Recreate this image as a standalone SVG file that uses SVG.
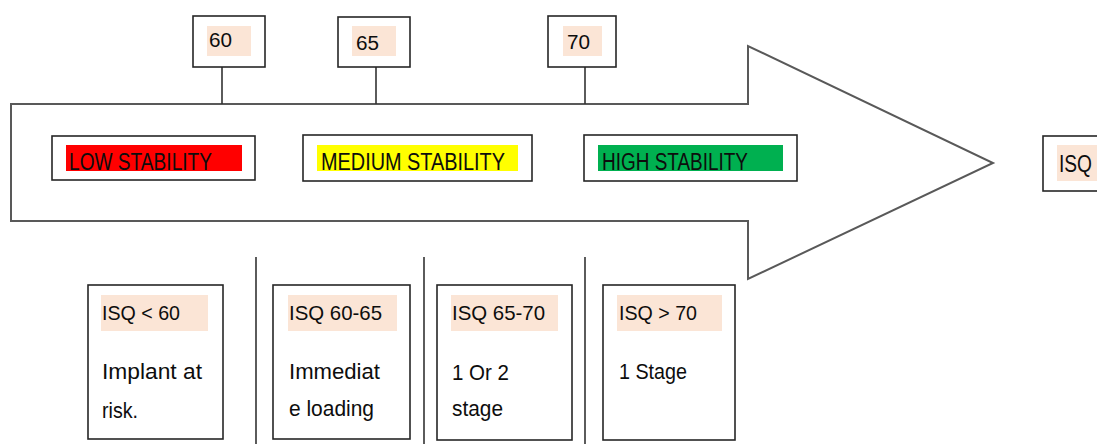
<svg xmlns="http://www.w3.org/2000/svg" width="1097" height="444" viewBox="0 0 1097 444">
<style>
.bg{fill:#ffffff}
.box{fill:#ffffff;stroke:#262626;stroke-width:1.6}
.arrow{fill:#ffffff;stroke:#595959;stroke-width:2}
.hl{fill:#fbe5d6}
.conn{stroke:#333333;stroke-width:1.6;fill:none}
.t{font-family:"Liberation Sans",Arial,sans-serif;fill:#0d0d0d}
.num{font-size:20px}
.stab{font-size:23.5px}
.lab{font-size:21px}
.desc{font-size:22px}
</style>
<rect class="bg" x="0" y="0" width="1097" height="444"/>
<g id="arrow">
<polygon class="arrow" points="11,104 748,104 748,46 993,163 748,279 748,221 11,221"/>
</g>
<g id="connectors">
<line class="conn" x1="222" y1="67" x2="222" y2="104"/>
<line class="conn" x1="376" y1="67" x2="376" y2="104"/>
<line class="conn" x1="585" y1="67" x2="585" y2="104" stroke="#555555"/>
<line class="conn" x1="256" y1="257" x2="256" y2="444"/>
<line class="conn" x1="424" y1="257" x2="424" y2="444"/>
<line class="conn" x1="585" y1="257" x2="585" y2="444"/>
</g>
<g id="n60">
<rect class="box" x="193" y="16" width="72" height="51"/>
<rect class="hl" x="207" y="26" width="44" height="30"/>
<text class="t num" x="209" y="47" textLength="23" lengthAdjust="spacingAndGlyphs">60</text>
</g>
<g id="n65">
<rect class="box" x="338" y="17" width="72" height="50"/>
<rect class="hl" x="352" y="26" width="44" height="30"/>
<text class="t num" x="356" y="50" textLength="23" lengthAdjust="spacingAndGlyphs">65</text>
</g>
<g id="n70">
<rect class="box" x="548" y="16" width="68" height="51"/>
<rect class="hl" x="563" y="26" width="39" height="30"/>
<text class="t num" x="567" y="49" textLength="23" lengthAdjust="spacingAndGlyphs">70</text>
</g>
<g id="low">
<rect class="box" x="52" y="136" width="203" height="44"/>
<rect x="66" y="145" width="176" height="26" fill="#ff0000"/>
<text class="t stab" x="69" y="170" textLength="143" lengthAdjust="spacingAndGlyphs">LOW STABILITY</text>
</g>
<g id="medium">
<rect class="box" x="303" y="135" width="229" height="46"/>
<rect x="317" y="145" width="201" height="26" fill="#ffff00"/>
<text class="t stab" x="321" y="170" textLength="184" lengthAdjust="spacingAndGlyphs">MEDIUM STABILITY</text>
</g>
<g id="high">
<rect class="box" x="584" y="135" width="213" height="46"/>
<rect x="598" y="145" width="185" height="26" fill="#00b050"/>
<text class="t stab" x="602" y="170" textLength="146" lengthAdjust="spacingAndGlyphs">HIGH STABILITY</text>
</g>
<g id="isq">
<rect class="box" x="1043" y="136" width="70" height="55"/>
<rect class="hl" x="1057" y="145" width="50" height="36"/>
<text class="t stab" x="1059" y="172" textLength="33" lengthAdjust="spacingAndGlyphs">ISQ</text>
</g>
<g id="b1">
<rect class="box" x="88" y="285" width="135" height="154"/>
<rect class="hl" x="101" y="295" width="107" height="36"/>
<text class="t lab" x="102" y="320" textLength="78" lengthAdjust="spacingAndGlyphs">ISQ &lt; 60</text>
<text class="t desc" x="102" y="379" textLength="100" lengthAdjust="spacingAndGlyphs">Implant at</text>
<text class="t desc" x="102" y="418" textLength="36" lengthAdjust="spacingAndGlyphs">risk.</text>
</g>
<g id="b2">
<rect class="box" x="273" y="285" width="137" height="154"/>
<rect class="hl" x="288" y="295" width="109" height="36"/>
<text class="t lab" x="289" y="320" textLength="93" lengthAdjust="spacingAndGlyphs">ISQ 60-65</text>
<text class="t desc" x="289" y="379" textLength="91" lengthAdjust="spacingAndGlyphs">Immediat</text>
<text class="t desc" x="289" y="416" textLength="85" lengthAdjust="spacingAndGlyphs">e loading</text>
</g>
<g id="b3">
<rect class="box" x="437" y="285" width="135" height="155"/>
<rect class="hl" x="451" y="295" width="107" height="36"/>
<text class="t lab" x="452" y="320" textLength="93" lengthAdjust="spacingAndGlyphs">ISQ 65-70</text>
<text class="t desc" x="452" y="380" textLength="57" lengthAdjust="spacingAndGlyphs">1 Or 2</text>
<text class="t desc" x="452" y="416" textLength="51" lengthAdjust="spacingAndGlyphs">stage</text>
</g>
<g id="b4">
<rect class="box" x="603" y="285" width="132" height="155"/>
<rect class="hl" x="617" y="295" width="105" height="36"/>
<text class="t lab" x="619" y="320" textLength="78" lengthAdjust="spacingAndGlyphs">ISQ &gt; 70</text>
<text class="t desc" x="619" y="379" textLength="68" lengthAdjust="spacingAndGlyphs">1 Stage</text>
</g>
</svg>
